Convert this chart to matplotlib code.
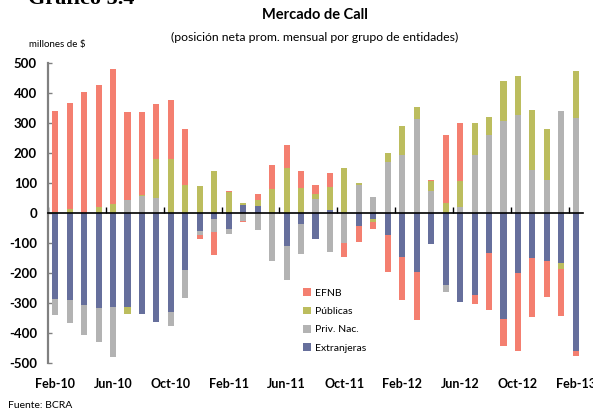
import matplotlib
matplotlib.use("Agg")
import matplotlib.pyplot as plt
import matplotlib.transforms as mtransforms
from matplotlib.patches import Patch
import numpy as np

months = ["Feb-10", "Mar-10", "Apr-10", "May-10", "Jun-10", "Jul-10", "Aug-10", "Sep-10",
          "Oct-10", "Nov-10", "Dec-10", "Jan-11", "Feb-11", "Mar-11", "Apr-11", "May-11",
          "Jun-11", "Jul-11", "Aug-11", "Sep-11", "Oct-11", "Nov-11", "Dec-11", "Jan-12",
          "Feb-12", "Mar-12", "Apr-12", "May-12", "Jun-12", "Jul-12", "Aug-12", "Sep-12",
          "Oct-12", "Nov-12", "Dec-12", "Jan-13", "Feb-13"]

extranjeras = [-287, -291, -308, -318, -314, -314, -337, -364, -331, -190, -62, -22, -53, 26,
               22, 0, -110, -39, -89, 8, 0, -45, -22, -73, -147, -197, -105, -240, -298,
               -274, -135, -355, -200, -150, -160, -167, -462]
priv_nac = [-56, -76, -99, -113, -167, 44, 56, 48, -46, -93, -13, -41, -19, -27, -59, -160,
            -116, -98, 46, -132, -102, 92, 51, 168, 194, 314, 74, -24, 19, 194, 261, 308,
            328, 144, 111, 341, 318]
publicas = [4, 14, 0, 18, 28, -23, 3, 133, 179, 92, 88, 138, 68, 8, 19, 79, 148, 81, 18, 79,
            148, 9, -10, 33, 94, 40, 32, 34, 87, 107, 60, 133, 130, 200, 167, -22, 156]
efnb = [337, 354, 404, 410, 453, 294, 279, 183, 199, 189, -14, -77, 6, -5, 20, 80, 78, 57,
        27, 47, -47, -53, -21, -126, -143, -160, 2, 227, 192, -30, -189, -90, -262, -198,
        -121, -156, -17]

tick_labels = ["Feb-10", "Jun-10", "Oct-10", "Feb-11", "Jun-11", "Oct-11", "Feb-12",
               "Jun-12", "Oct-12", "Feb-13"]

series = [
    ("Extranjeras", extranjeras, "#666f9c"),
    ("Priv. Nac.", priv_nac, "#b3b3b3"),
    ("Públicas", publicas, "#bcbd5e"),
    ("EFNB", efnb, "#f47f70"),
]

FONT = ["Lato", "DejaVu Sans"]
plt.rcParams["font.family"] = FONT

fig = plt.figure(figsize=(5.93, 4.13), dpi=100)
ax = fig.add_axes([48 / 593, 1 - 362.5 / 413, (583 - 48) / 593, (362.5 - 63) / 413])

x = np.arange(len(months))
pos_base = np.zeros(len(months))
neg_base = np.zeros(len(months))
for name, vals, col in series:
    v = np.array(vals, dtype=float)
    bottom = np.where(v >= 0, pos_base, neg_base)
    ax.bar(x, v, bottom=bottom, width=0.42, color=col, linewidth=0, zorder=2)
    pos_base = pos_base + np.where(v >= 0, v, 0)
    neg_base = neg_base + np.where(v < 0, v, 0)

ax.set_xlim(-0.5, len(months) - 0.5)
ax.set_ylim(-500, 500)
ax.set_yticks(np.arange(-500, 501, 100))
ax.set_yticklabels([str(v) for v in range(-500, 501, 100)], fontsize=9.5, fontweight="bold")

for s in ["top", "right"]:
    ax.spines[s].set_visible(False)
ax.spines["left"].set_color("#808080")
ax.spines["left"].set_linewidth(1.6)
ax.spines["bottom"].set_position(("data", 0))
ax.spines["bottom"].set_color("black")
ax.spines["bottom"].set_linewidth(1.2)
ax.spines["bottom"].set_zorder(3)

ax.tick_params(axis="y", direction="in", length=3, width=1, color="#808080", pad=8)
ax.set_xticks(np.arange(-0.5, len(months), 4))
ax.tick_params(axis="x", direction="in", length=4, width=1, color="black", labelbottom=False)

trans = mtransforms.blended_transform_factory(ax.transData, ax.transAxes)
for i, lab in enumerate(tick_labels):
    ax.text(i * 4, -0.072, lab, transform=trans, ha="center", va="center",
            fontsize=9, fontweight="bold")

handles = [Patch(facecolor=c, edgecolor="none") for _, _, c in series[::-1]]
labels = [n for n, _, _ in series[::-1]]
fig.legend(handles, labels, loc="upper left", bbox_to_anchor=(296 / 593, 1 - 281 / 413),
           frameon=False, fontsize=7.5, handlelength=0.75, handleheight=0.75,
           handletextpad=0.35, labelspacing=0.85, borderpad=0.2)

fig.text(315 / 593, 1 - 15 / 413, "Mercado de Call", ha="center", va="center",
         fontsize=10.5, fontweight="bold")
fig.text(315 / 593, 1 - 37 / 413, "(posición neta prom. mensual por grupo de entidades)",
         ha="center", va="center", fontsize=8.8)
fig.text(29 / 593, 1 - 44 / 413, "millones de $", ha="left", va="center", fontsize=7)
fig.text(8 / 593, 1 - 405 / 413, "Fuente: BCRA", ha="left", va="center", fontsize=7.5)
fig.text(28 / 593, 1 - 4 / 413, "Gráfico 5.4", ha="left", va="baseline", fontsize=16,
         fontweight="bold", family=["Liberation Serif", "DejaVu Serif"])

fig.savefig("out.png", dpi=100)
